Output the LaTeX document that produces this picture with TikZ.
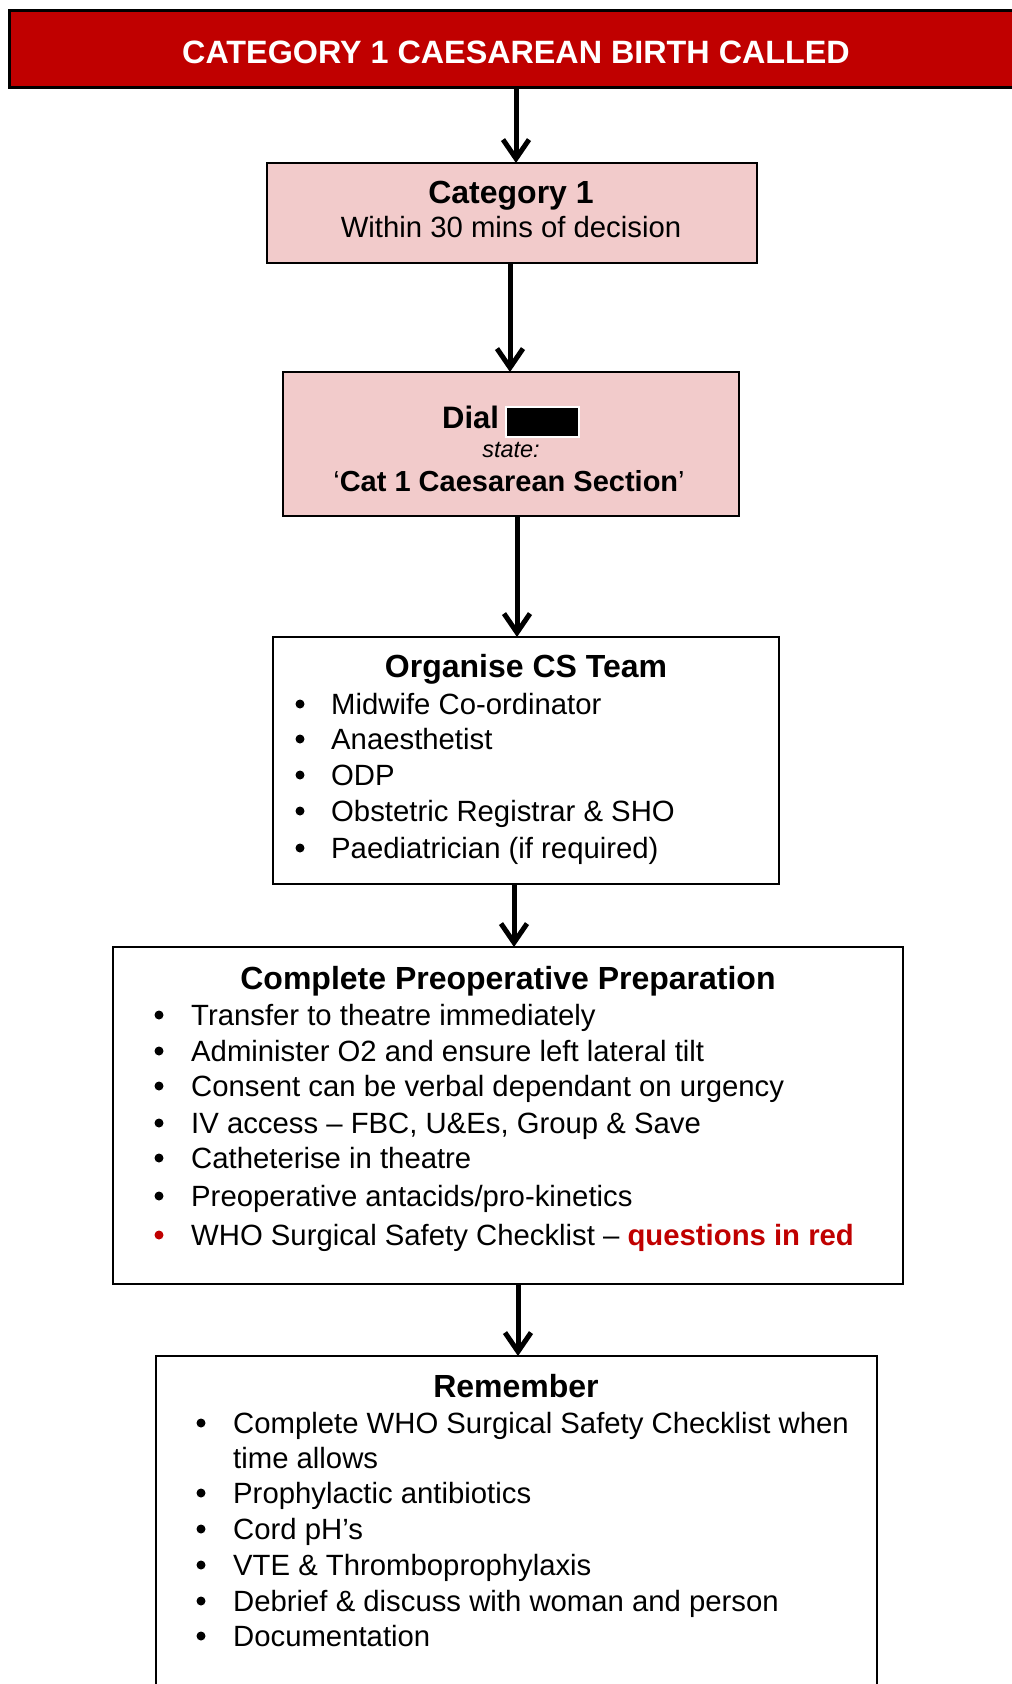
\documentclass[tikz,border=0pt]{standalone}
\usepackage{fontspec}
\setmainfont{Liberation Sans}
\usetikzlibrary{arrows.meta}
\definecolor{catred}{RGB}{192,0,0}
\definecolor{catpink}{RGB}{242,203,203}

\begin{document}
\begin{tikzpicture}[x=1pt,y=-1pt,
  box/.style={draw=black, line width=2.5pt, inner sep=0pt, outer sep=0pt},
  pinkbox/.style={box, fill=catpink},
  flow/.style={line width=5pt, -{Straight Barb[length=19pt,width=26pt]}},
  ttl/.style={font=\fontsize{32}{36}\selectfont\bfseries, anchor=base, inner sep=0pt},
  txt/.style={font=\fontsize{29.3}{34}\selectfont, anchor=base west, inner sep=0pt},
  dot/.style={circle, fill=black, minimum size=9pt, inner sep=0pt},
]
\useasboundingbox (0,0) rectangle (1012,1684);

% ---- boxes ----
\node (header) [box, line width=3pt, fill=catred, minimum width=1007, minimum height=77] at (512.5,48.5) {};
\node (cat)  [pinkbox, minimum width=490, minimum height=100] at (512,213) {};
\node (dial) [pinkbox, minimum width=456, minimum height=144] at (511,444) {};
\node (team) [box, fill=white, minimum width=506, minimum height=247] at (526,760.5) {};
\node (prep) [box, fill=white, minimum width=790, minimum height=337] at (508,1115.5) {};
\node (rem)  [box, fill=white, minimum width=721, minimum height=336] at (516.5,1524) {};

% ---- connectors ----
\draw[flow] ([xshift=3.5pt]header.south) -- ([xshift=4pt]cat.north);
\draw[flow] ([xshift=-2pt]cat.south) -- ([xshift=-1pt]dial.north);
\draw[flow] ([xshift=6pt]dial.south) -- ([xshift=-9pt]team.north);
\draw[flow] ([xshift=-12pt]team.south) -- ([xshift=6pt]prep.north);
\draw[flow] ([xshift=10pt]prep.south) -- ([xshift=1.5pt]rem.north);

% ---- header ----
\node (htxt) [anchor=base, inner sep=0pt, text=white, font=\fontsize{32.3}{36}\selectfont\bfseries] at (516,63) {CATEGORY 1 CAESAREAN BIRTH CALLED};

% ---- category box ----
\node (cattl) [ttl] at (511,203) {Category 1};
\node (catsub) [anchor=base, inner sep=0pt, font=\fontsize{29.3}{34}\selectfont] at (511,237) {Within 30 mins of decision};

% ---- dial box ----
\node (dialw) [anchor=base west, inner sep=0pt, font=\fontsize{31}{34}\selectfont\bfseries] at (442,428) {Dial};
\node (redact) [fill=black, draw=white, line width=1.5pt, minimum width=73, minimum height=30, inner sep=0pt] at (542.5,422) {};
\node (state) [anchor=base, inner sep=0pt, font=\fontsize{23.5}{26}\selectfont\itshape] at (511,457) {state:};
\node (cs) [anchor=base, inner sep=0pt, font=\fontsize{29}{34}\selectfont] at (509,491) {‘\textbf{Cat 1 Caesarean Section}’};

% ---- team box ----
\node (teamtl) [ttl] at (526,677) {Organise CS Team};
\node (t1) [txt] at (331,714) {Midwife Co-ordinator};
\node (t2) [txt] at (331,749) {Anaesthetist};
\node (t3) [txt] at (331,785) {ODP};
\node (t4) [txt] at (331,821) {Obstetric Registrar \& SHO};
\node (t5) [txt] at (331,858) {Paediatrician (if required)};
\foreach \yy [count=\i] in {714,749,785,821,858}
  \node (tb\i) [dot] at (300,\yy-10) {};

% ---- preparation box ----
\node (preptl) [ttl] at (508,989) {Complete Preoperative Preparation};
\node (p1) [txt] at (191,1025) {Transfer to theatre immediately};
\node (p2) [txt] at (191,1061) {Administer O2 and ensure left lateral tilt};
\node (p3) [txt] at (191,1096) {Consent can be verbal dependant on urgency};
\node (p4) [txt] at (191,1133) {IV access – FBC, U\&Es, Group \& Save};
\node (p5) [txt] at (191,1168) {Catheterise in theatre};
\node (p6) [txt] at (191,1206) {Preoperative antacids/pro-kinetics};
\node (p7) [txt] at (191,1245) {WHO Surgical Safety Checklist – \textcolor{catred}{\bfseries questions in red}};
\foreach \yy [count=\i] in {1025,1061,1096,1133,1168,1206}
  \node (pb\i) [dot] at (159,\yy-10) {};
\node (pb7) [dot, fill=catred] at (159,1235) {};

% ---- remember box ----
\node (remtl) [ttl] at (516,1397) {Remember};
\node (r1) [txt] at (233,1433) {Complete WHO Surgical Safety Checklist when};
\node (r1b) [txt] at (233,1468) {time allows};
\node (r2) [txt] at (233,1503) {Prophylactic antibiotics};
\node (r3) [txt] at (233,1539) {Cord pH’s};
\node (r4) [txt] at (233,1575) {VTE \& Thromboprophylaxis};
\node (r5) [txt] at (233,1611) {Debrief \& discuss with woman and person};
\node (r6) [txt] at (233,1646) {Documentation};
\foreach \yy [count=\i] in {1433,1503,1539,1575,1611,1646}
  \node (rb\i) [dot] at (201,\yy-10) {};

\end{tikzpicture}
\end{document}
